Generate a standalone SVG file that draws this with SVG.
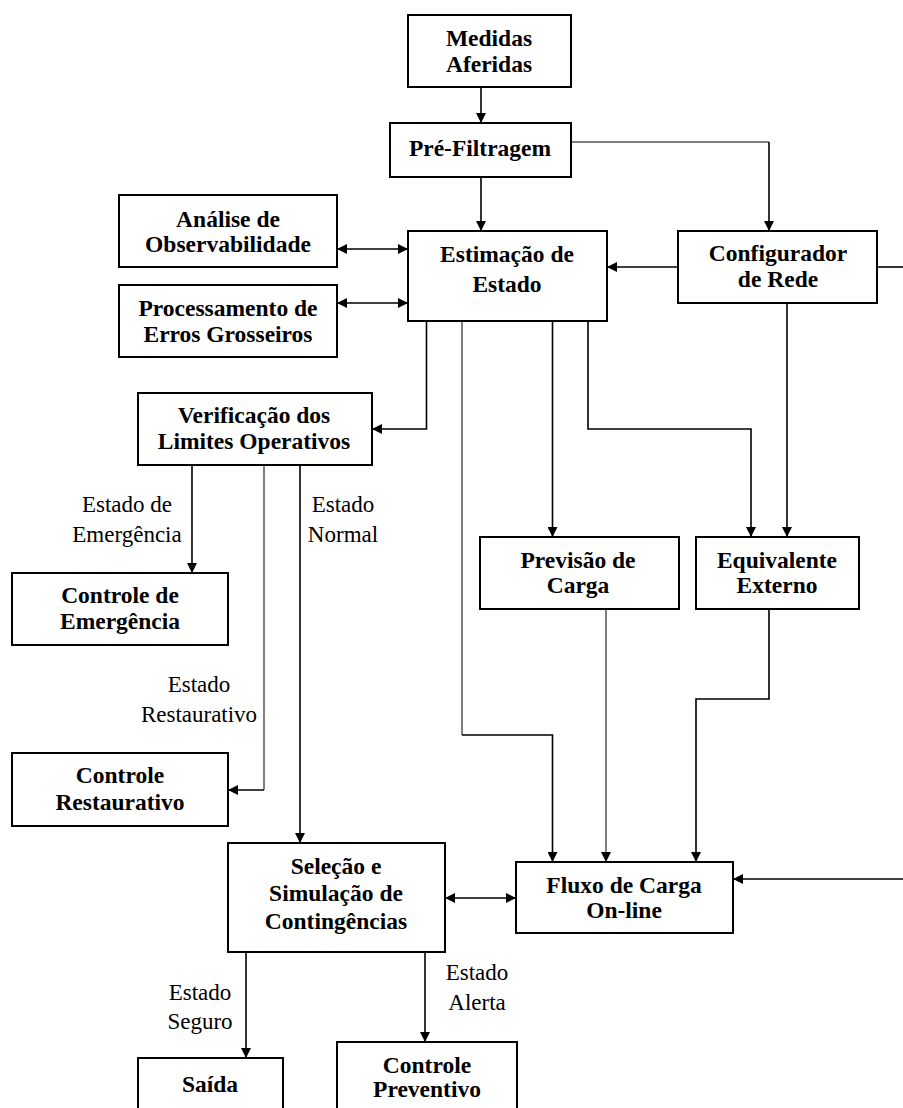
<svg xmlns="http://www.w3.org/2000/svg" width="903" height="1108" viewBox="0 0 903 1108">
  <style>
    .box { fill: #ffffff; stroke: #000000; stroke-width: 2; }
    .node { font-family: "Liberation Serif", "Times New Roman", serif; font-weight: bold; font-size: 23.5px; fill: #000000; text-anchor: middle; }
    .lbl { font-family: "Liberation Serif", "Times New Roman", serif; font-size: 23px; fill: #000000; text-anchor: middle; }
    .wire { fill: none; stroke: #000000; stroke-width: 1.6; }
    .soft { fill: none; stroke: #000000; stroke-width: 1; }
    .arr { marker-end: url(#head); }
    .both { marker-start: url(#head); marker-end: url(#head); }
  </style>
  <defs>
    <marker id="head" viewBox="0 0 10 10" refX="10" refY="5" markerWidth="10" markerHeight="10" markerUnits="userSpaceOnUse" orient="auto-start-reverse">
      <path d="M0,0 L10,5 L0,10 Z" fill="#000000"/>
    </marker>
  </defs>
  <rect width="903" height="1108" fill="#ffffff"/>

  <g id="connectors">
    <path class="wire arr" d="M481,87 V123"/>
    <path class="wire arr" d="M481,177 V231"/>
    <path class="soft" d="M571,142 H769"/>
    <path class="wire arr" d="M769,142 V231"/>
    <path class="wire arr" d="M678,267 H607"/>
    <path class="wire" d="M877,267 H903"/>
    <path class="wire both" d="M337,249 H408"/>
    <path class="wire both" d="M337,303 H408"/>
    <path class="wire arr" d="M426.5,321 V429 H372"/>
    <path class="soft" d="M462,321 V735"/>
    <path class="wire arr" d="M462,735 H552.5 V862"/>
    <path class="wire arr" d="M552.5,321 V537"/>
    <path class="wire arr" d="M588,321 V429 H751 V537"/>
    <path class="wire arr" d="M787,303 V537"/>
    <path class="soft arr" d="M606,609 V862"/>
    <path class="wire arr" d="M769,609 V699 H696 V862"/>
    <path class="wire arr" d="M903,879 H733"/>
    <path class="wire arr" d="M192,465 V573"/>
    <path class="soft" d="M264,465 V790"/>
    <path class="wire arr" d="M264,790 H228"/>
    <path class="wire arr" d="M300,465 V843"/>
    <path class="wire both" d="M445,898 H516"/>
    <path class="wire arr" d="M246,952 V1058"/>
    <path class="wire arr" d="M425,952 V1042"/>
  </g>

  <g id="edge-labels">
    <text class="lbl"><tspan x="127" y="512">Estado de</tspan><tspan x="127" y="542">Emergência</tspan></text>
    <text class="lbl"><tspan x="343" y="512">Estado</tspan><tspan x="343" y="542">Normal</tspan></text>
    <text class="lbl"><tspan x="199" y="692">Estado</tspan><tspan x="199" y="722">Restaurativo</tspan></text>
    <text class="lbl"><tspan x="200" y="1000">Estado</tspan><tspan x="200" y="1029">Seguro</tspan></text>
    <text class="lbl"><tspan x="477" y="980">Estado</tspan><tspan x="477" y="1010">Alerta</tspan></text>
  </g>

  <g id="medidas-aferidas">
    <rect class="box" x="408" y="15" width="163" height="72"/>
    <text class="node"><tspan x="489" y="46">Medidas</tspan><tspan x="489" y="72">Aferidas</tspan></text>
  </g>
  <g id="pre-filtragem">
    <rect class="box" x="390" y="123" width="181" height="54"/>
    <text class="node" x="480" y="156">Pré-Filtragem</text>
  </g>
  <g id="analise-observabilidade">
    <rect class="box" x="119" y="195" width="218" height="72"/>
    <text class="node"><tspan x="228" y="227">Análise de</tspan><tspan x="228" y="252">Observabilidade</tspan></text>
  </g>
  <g id="processamento-erros">
    <rect class="box" x="119" y="285" width="218" height="72"/>
    <text class="node"><tspan x="228" y="316">Processamento de</tspan><tspan x="228" y="342">Erros Grosseiros</tspan></text>
  </g>
  <g id="estimacao-estado">
    <rect class="box" x="408" y="231" width="199" height="90"/>
    <text class="node"><tspan x="507" y="262">Estimação de</tspan><tspan x="507" y="292">Estado</tspan></text>
  </g>
  <g id="configurador-rede">
    <rect class="box" x="678" y="231" width="199" height="72"/>
    <text class="node"><tspan x="778" y="261">Configurador</tspan><tspan x="778" y="287">de Rede</tspan></text>
  </g>
  <g id="verificacao-limites">
    <rect class="box" x="138" y="393" width="234" height="72"/>
    <text class="node"><tspan x="254" y="423">Verificação dos</tspan><tspan x="254" y="449">Limites Operativos</tspan></text>
  </g>
  <g id="previsao-carga">
    <rect class="box" x="480" y="537" width="199" height="72"/>
    <text class="node"><tspan x="578" y="568">Previsão de</tspan><tspan x="578" y="593">Carga</tspan></text>
  </g>
  <g id="equivalente-externo">
    <rect class="box" x="696" y="537" width="163" height="72"/>
    <text class="node"><tspan x="777" y="568">Equivalente</tspan><tspan x="777" y="593">Externo</tspan></text>
  </g>
  <g id="controle-emergencia">
    <rect class="box" x="12" y="573" width="216" height="72"/>
    <text class="node"><tspan x="120" y="603">Controle de</tspan><tspan x="120" y="629">Emergência</tspan></text>
  </g>
  <g id="controle-restaurativo">
    <rect class="box" x="12" y="753" width="216" height="73"/>
    <text class="node"><tspan x="120" y="783">Controle</tspan><tspan x="120" y="810">Restaurativo</tspan></text>
  </g>
  <g id="selecao-simulacao">
    <rect class="box" x="228" y="843" width="217" height="109"/>
    <text class="node"><tspan x="336" y="874">Seleção e</tspan><tspan x="336" y="901">Simulação de</tspan><tspan x="336" y="929">Contingências</tspan></text>
  </g>
  <g id="fluxo-carga">
    <rect class="box" x="516" y="862" width="217" height="71"/>
    <text class="node"><tspan x="624" y="893">Fluxo de Carga</tspan><tspan x="624" y="918">On-line</tspan></text>
  </g>
  <g id="saida">
    <rect class="box" x="138" y="1058" width="145" height="60"/>
    <text class="node" x="210" y="1092">Saída</text>
  </g>
  <g id="controle-preventivo">
    <rect class="box" x="337" y="1042" width="180" height="76"/>
    <text class="node"><tspan x="427" y="1073">Controle</tspan><tspan x="427" y="1097">Preventivo</tspan></text>
  </g>
</svg>
